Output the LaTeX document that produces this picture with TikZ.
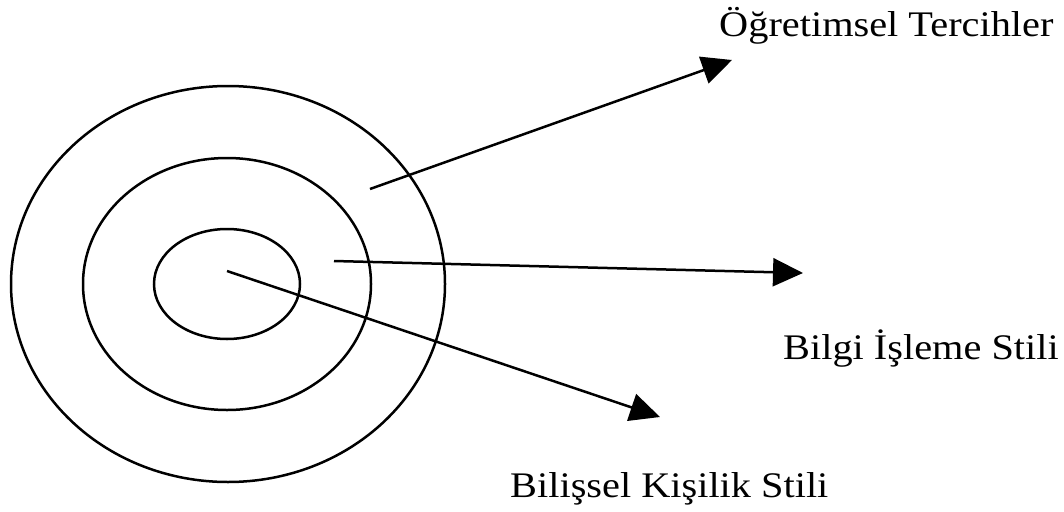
\documentclass[tikz,border=0pt]{standalone}
\usepackage{fontspec}
\setmainfont{Liberation Serif}
\usetikzlibrary{shapes.geometric,arrows.meta}
\begin{document}
\begin{tikzpicture}[x=1pt,y=-1pt,
  ring/.style={draw, ellipse, line width=2.5pt, inner sep=0pt},
  pointer/.style={line width=2.5pt, -{Triangle[length=30pt,width=28pt]}},
  label/.style={anchor=base west, inner sep=0pt, xscale=1.12, font=\fontsize{36}{40}\selectfont}]
\useasboundingbox (0,0) rectangle (1064,511);
\node[ring, minimum width=434pt, minimum height=396pt] (outer) at (228,284) {};
\node[ring, minimum width=288pt, minimum height=252pt] (middle) at (227,284) {};
\node[ring, minimum width=146pt, minimum height=110pt] (inner) at (227,284) {};
\coordinate (s1) at (370,189);
\coordinate (e1) at (732,60);
\coordinate (s2) at (334,261);
\coordinate (e2) at (803,273);
\coordinate (s3) at (227,271);
\coordinate (e3) at (660,417);
\draw[pointer] (s1) -- (e1);
\draw[pointer] (s2) -- (e2);
\draw[pointer] (s3) -- (e3);
\node[label] (t1) at (719,37) {Öğretimsel Tercihler};
\node[label] (t2) at (783,359) {Bilgi İşleme Stili};
\node[label] (t3) at (510,497) {Bilişsel Kişilik Stili};
\end{tikzpicture}
\end{document}
